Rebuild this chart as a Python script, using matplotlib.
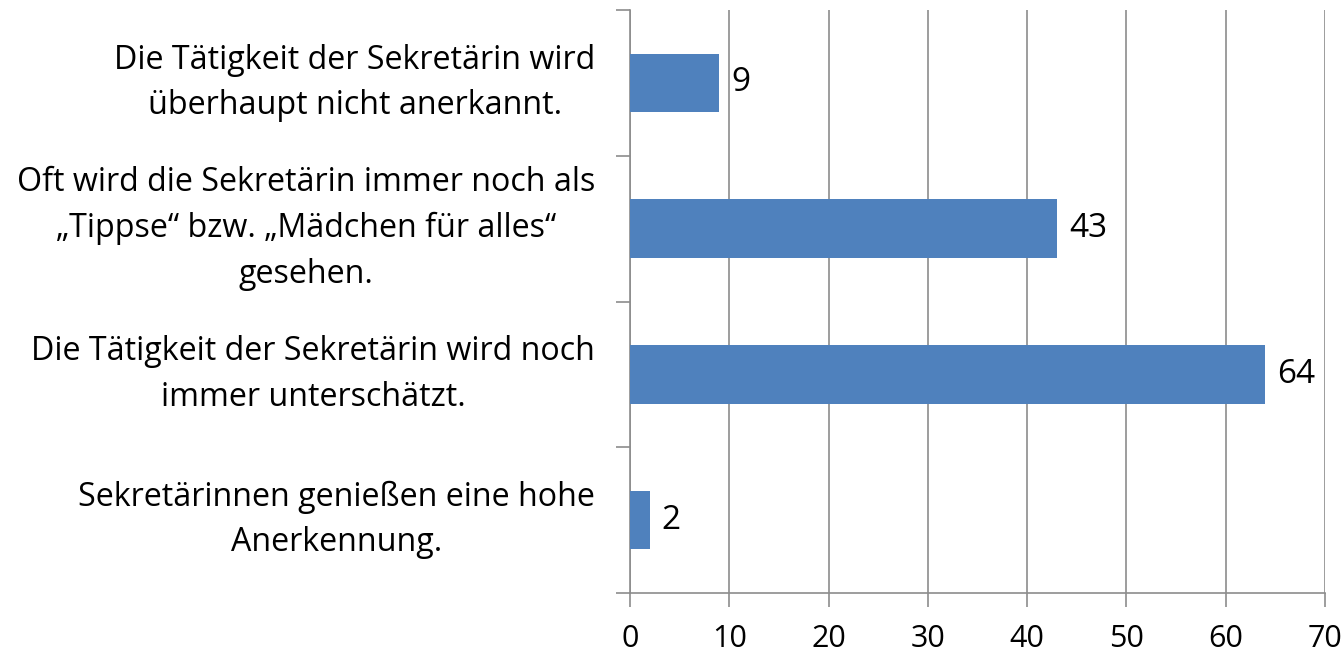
import matplotlib.pyplot as plt

categories = [
    "Sekretärinnen genießen eine hohe\nAnerkennung.",
    "Die Tätigkeit der Sekretärin wird noch\nimmer unterschätzt.",
    "Oft wird die Sekretärin immer noch als\n„Tippse“ bzw. „Mädchen für alles“\ngesehen.",
    "Die Tätigkeit der Sekretärin wird\nüberhaupt nicht anerkannt.",
]
values = [2, 64, 43, 9]
xticks = [0, 10, 20, 30, 40, 50, 60, 70]

plt.rcParams['font.family'] = ['Open Sans', 'DejaVu Sans']

fig = plt.figure(figsize=(13.44, 6.56), dpi=100)
ax = fig.add_axes([630 / 1344, 1 - 593 / 656, 695 / 1344, 583 / 656])

pos = list(range(len(values)))
ax.barh(pos, values, height=0.4, color='#4F81BD', zorder=3)
for p, v in zip(pos, values):
    ax.text(v + 1.2, p, str(v), va='center', ha='left', fontsize=24)

ax.set_xlim(0, 70)
ax.set_ylim(-0.5, len(values) - 0.5)
ax.set_xticks(xticks)
ax.set_xticklabels([str(t) for t in xticks], fontsize=22)
ax.grid(axis='x', color='#8C8C8C', linewidth=1.2, zorder=0)

# category labels, tick marks between categories
ax.set_yticks([p + 0.5 for p in pos[:-1]] + [-0.5, len(values) - 0.5])
ax.set_yticklabels([])
for p, c in zip(pos, categories):
    ax.text(-3.5, p, c, ha='right', va='center', multialignment='center',
            fontsize=23.2, linespacing=1.5)

for s in ['top', 'right']:
    ax.spines[s].set_visible(False)
for s in ['left', 'bottom']:
    ax.spines[s].set_color('#8C8C8C')
    ax.spines[s].set_linewidth(1.2)
ax.tick_params(axis='y', length=10, width=1.2, color='#8C8C8C')
ax.tick_params(axis='x', length=10, width=1.2, color='#8C8C8C', pad=12)

fig.savefig('out.png', dpi=100)
